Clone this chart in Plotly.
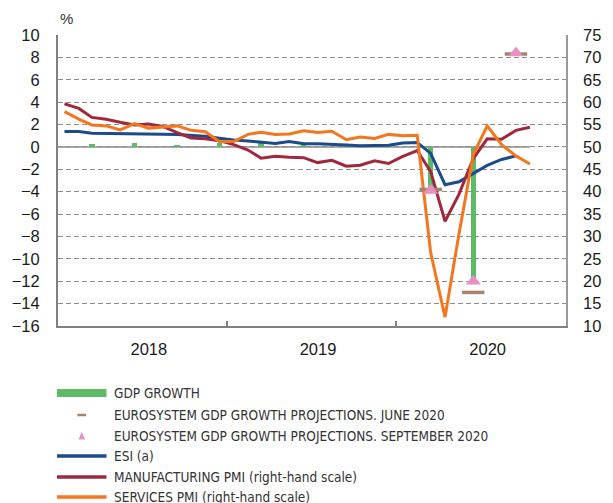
import plotly.graph_objects as go

# ---------------- data ----------------
months = [f"{y}-{m:02d}-15" for y in (2018, 2019, 2020) for m in range(1, 13)][:34]

quarters = ["2018-03-15", "2018-06-15", "2018-09-15", "2018-12-15",
            "2019-03-15", "2019-06-15", "2019-09-15", "2019-12-15",
            "2020-03-15", "2020-06-15"]
gdp_growth = [0.22, 0.38, 0.16, 0.38, 0.42, 0.16, 0.28, 0.05, -3.7, -11.8]

proj_quarters = ["2020-03-15", "2020-06-15", "2020-09-15"]
proj_june = [-3.8, -13.0, 8.3]
proj_sept = [-3.9, -12.0, 8.4]

esi = [1.37, 1.37, 1.22, 1.21, 1.21, 1.19, 1.16, 1.14, 1.10, 1.03, 0.95, 0.78,
       0.62, 0.53, 0.45, 0.30, 0.48, 0.28, 0.29, 0.25, 0.17, 0.10, 0.10, 0.15,
       0.35, 0.40, -0.58, -3.38, -3.12, -2.38, -1.65, -1.12, -0.80]

mfg_pmi = [59.6, 58.6, 56.6, 56.2, 55.5, 54.9, 55.1, 54.6, 53.2, 52.0, 51.8, 51.4,
           50.5, 49.3, 47.5, 47.9, 47.7, 47.6, 46.5, 47.0, 45.7, 45.9, 46.9, 46.3,
           47.9, 49.2, 44.5, 33.4, 39.4, 47.4, 51.8, 51.7, 53.7, 54.4]

serv_pmi = [57.9, 56.2, 54.9, 54.7, 53.8, 55.2, 54.2, 54.4, 54.7, 53.7, 53.4, 51.2,
            51.2, 52.8, 53.3, 52.8, 52.9, 53.6, 53.2, 53.5, 51.6, 52.2, 51.9, 52.8,
            52.5, 52.6, 26.4, 12.0, 30.5, 48.3, 54.7, 50.5, 48.0, 46.2]

year_ticks = ["2018-07-16", "2019-07-16", "2020-07-16"]
year_labels = ["2018", "2019", "2020"]
left_ticks = list(range(-16, 11, 2))
right_ticks = list(range(10, 76, 5))

legend_labels = ["GDP GROWTH",
                 "EUROSYSTEM GDP GROWTH PROJECTIONS. JUNE 2020",
                 "EUROSYSTEM GDP GROWTH PROJECTIONS. SEPTEMBER 2020",
                 "ESI (a)",
                 "MANUFACTURING PMI (right-hand scale)",
                 "SERVICES PMI (right-hand scale)"]

# ---------------- style ----------------
GREEN = "#5dbb66"
BROWN = "#a8826e"
PINK = "#ea8fc2"
BLUE = "#1c4b8c"
RED = "#9f283d"
ORANGE = "#f4761f"
AXIS = "#808080"
GRID = "#8e8e8e"
FONT = "Liberation Sans, Arial, sans-serif"
NARROW = "Liberation Sans Narrow, Arial Narrow, DejaVu Sans Condensed, sans-serif"

W, H = 613, 503
L, R, T, B = 53, 577, 35, 326


def px(x):
    return (x - L) / (R - L)


def py(y):
    return (B - y) / (B - T)


fig = go.Figure()

fig.add_trace(go.Bar(x=quarters, y=gdp_growth, marker_color=GREEN,
                     marker_line_width=0, width=12 * 86400000, yaxis="y",
                     showlegend=False))
fig.add_trace(go.Scatter(x=months[:len(esi)], y=esi, mode="lines",
                         line=dict(color=BLUE, width=3), yaxis="y",
                         showlegend=False))
fig.add_trace(go.Scatter(x=months, y=mfg_pmi, mode="lines",
                         line=dict(color=RED, width=3), yaxis="y2",
                         showlegend=False))
fig.add_trace(go.Scatter(x=months, y=serv_pmi, mode="lines",
                         line=dict(color=ORANGE, width=3), yaxis="y2",
                         showlegend=False))
fig.add_trace(go.Scatter(x=proj_quarters, y=proj_june, mode="markers",
                         marker=dict(symbol="line-ew", size=16,
                                     line=dict(color=BROWN, width=3.5)),
                         yaxis="y3", showlegend=False))
fig.add_trace(go.Scatter(x=proj_quarters, y=proj_sept, mode="markers",
                         marker=dict(symbol="triangle-up", size=13, color=PINK,
                                     line=dict(width=0)),
                         yaxis="y3", showlegend=False))

shapes = [
    dict(type="line", xref="x", yref="y", x0="2018-01-01", x1=months[-1],
         y0=0, y1=0, line=dict(color="#8c8c8c", width=1.5), layer="below"),
]

# custom legend
rows = [393, 415, 436, 456, 477, 497]
shapes.append(dict(type="line", xref="paper", yref="paper", x0=px(52), x1=px(103),
                   y0=py(rows[0]), y1=py(rows[0]), line=dict(color=GREEN, width=8)))
shapes.append(dict(type="line", xref="paper", yref="paper", x0=px(73), x1=px(82),
                   y0=py(rows[1]), y1=py(rows[1]), line=dict(color=BROWN, width=2.5)))
tx, ty = 77.5, rows[2]
shapes.append(dict(type="path", xref="paper", yref="paper",
                   path=(f"M{px(tx-3.4)},{py(ty+3.5)} L{px(tx+3.4)},{py(ty+3.5)} "
                         f"L{px(tx)},{py(ty-4)} Z"),
                   fillcolor=PINK, line=dict(width=0)))
for rr, col in zip(rows[3:], [BLUE, RED, ORANGE]):
    shapes.append(dict(type="line", xref="paper", yref="paper", x0=px(52), x1=px(103),
                       y0=py(rr), y1=py(rr), line=dict(color=col, width=3.5)))

annotations = [
    dict(text="%", xref="paper", yref="paper", x=px(53), y=py(19),
         xanchor="left", yanchor="middle", showarrow=False,
         font=dict(family=FONT, size=15, color="#333333")),
]
for lab, rr in zip(legend_labels, rows):
    annotations.append(dict(text=lab, xref="paper", yref="paper", x=px(109), y=py(rr),
                            xanchor="left", yanchor="middle", showarrow=False,
                            font=dict(family=NARROW, size=13.5, color="#333333")))

fig.update_layout(
    width=W, height=H,
    margin=dict(l=L, r=W - R, t=T, b=H - B, pad=0),
    paper_bgcolor="white", plot_bgcolor="white",
    font=dict(family=FONT, size=16.5, color="#1a1a1a"),
    bargap=0,
    showlegend=False,
    xaxis=dict(type="date", range=["2018-01-01", "2021-01-01"],
               tickvals=year_ticks, ticktext=year_labels,
               ticks="outside", ticklen=7, tickcolor="rgba(0,0,0,0)",
               showline=True, linecolor=AXIS, linewidth=2,
               showgrid=False, zeroline=False,
               minor=dict(tickvals=["2019-01-01", "2020-01-01"], ticks="inside",
                          ticklen=5, tickcolor=AXIS, tickwidth=1.5, showgrid=False),
               tickfont=dict(size=16.5)),
    yaxis=dict(range=[-16, 10], tickvals=left_ticks,
               ticks="outside", ticklen=13, tickcolor="rgba(0,0,0,0)",
               showline=True, linecolor=AXIS, linewidth=2,
               showgrid=True, gridcolor=GRID, gridwidth=1.2, griddash="5px,3px",
               zeroline=False, tickfont=dict(size=16.5)),
    yaxis2=dict(range=[10, 75], tickvals=right_ticks, overlaying="y", side="right",
                ticks="outside", ticklen=12, tickcolor="rgba(0,0,0,0)",
                showline=True, linecolor="#999999", linewidth=1.5,
                showgrid=False, zeroline=False, tickfont=dict(size=16.5)),
    yaxis3=dict(range=[-16, 10], overlaying="y", visible=False),
    shapes=shapes,
    annotations=annotations,
)

fig.write_html("out.html",
               config={"displayModeBar": False},
               post_script="document.body.style.margin='0';"
                           "document.body.style.overflow='hidden';")
